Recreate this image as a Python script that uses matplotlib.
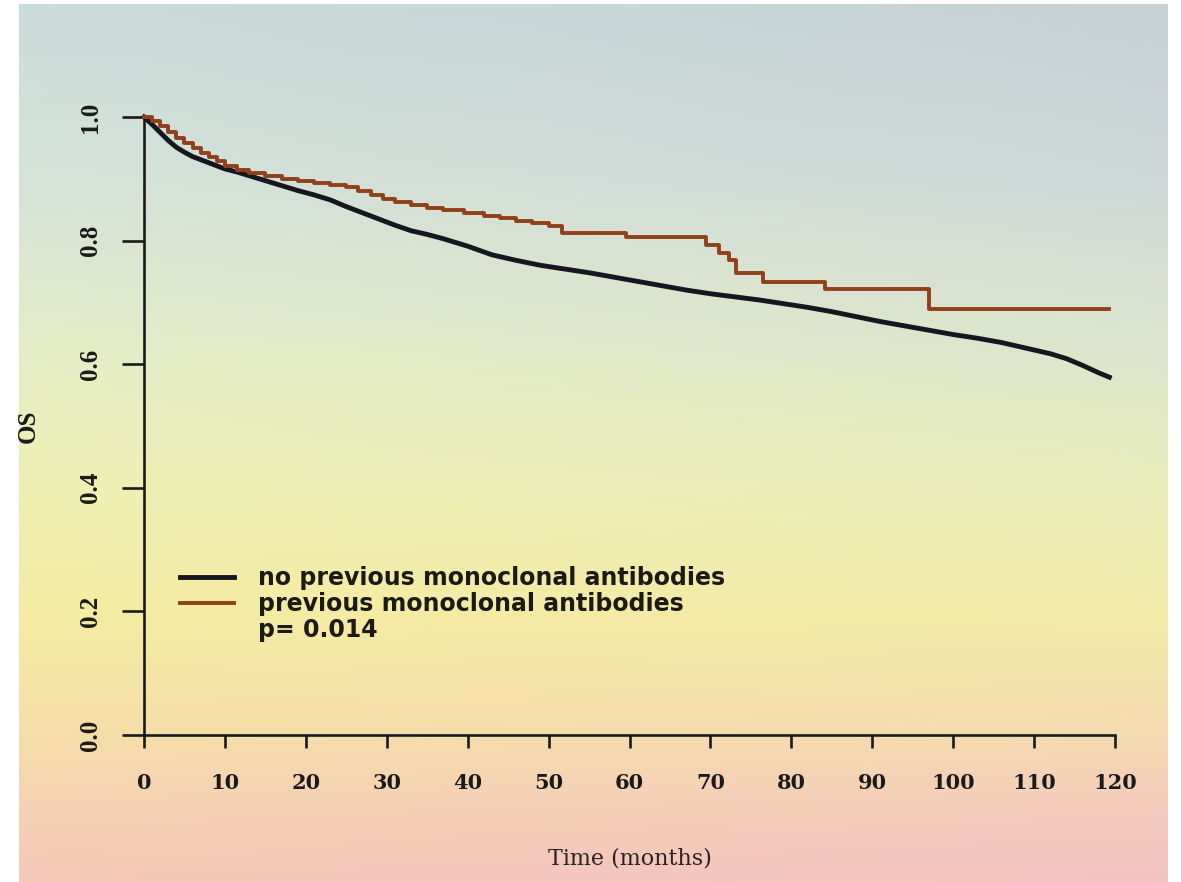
import numpy as np
import matplotlib
matplotlib.use("Agg")
import matplotlib.pyplot as plt
from matplotlib.colors import to_rgb
from matplotlib.lines import Line2D

# Kaplan-Meier overall survival, months
t_no_mab = [0, 1, 2, 3, 4, 5, 6, 7, 8, 9, 10, 11.5, 13, 15, 17, 19, 21, 23, 25, 27,
            29, 31, 33, 35, 37, 40, 43, 46, 49, 52, 55, 58, 61, 64, 67, 70, 73, 76,
            79, 82, 85, 88, 91, 94, 97, 100, 103, 106, 109, 112, 114, 116, 118, 119.3]
os_no_mab = [1.0, 0.988, 0.975, 0.962, 0.951, 0.943, 0.936, 0.931, 0.926, 0.921, 0.916,
             0.911, 0.905, 0.897, 0.889, 0.881, 0.874, 0.866, 0.855, 0.845, 0.835, 0.825,
             0.816, 0.810, 0.803, 0.791, 0.777, 0.768, 0.760, 0.754, 0.748, 0.741, 0.734,
             0.727, 0.720, 0.714, 0.709, 0.704, 0.698, 0.692, 0.685, 0.677, 0.669, 0.662,
             0.655, 0.648, 0.642, 0.635, 0.626, 0.617, 0.609, 0.598, 0.586, 0.579]

t_mab = [0, 1, 2, 3, 4, 5, 6, 7, 8, 9, 10, 11.5, 13, 15, 17, 19, 21, 23, 25, 26.5, 28,
         29.5, 31, 33, 35, 37, 39.5, 42, 44, 46, 48, 50, 51.6, 59.6, 69.5, 71, 72.3,
         73.2, 76.5, 84.2, 97.0, 119.3]
os_mab = [1.0, 0.993, 0.985, 0.975, 0.966, 0.958, 0.950, 0.942, 0.935, 0.928, 0.921,
          0.915, 0.910, 0.905, 0.900, 0.896, 0.893, 0.890, 0.886, 0.880, 0.874, 0.868,
          0.863, 0.858, 0.853, 0.849, 0.845, 0.840, 0.836, 0.832, 0.828, 0.823, 0.812,
          0.806, 0.793, 0.780, 0.769, 0.748, 0.733, 0.722, 0.689, 0.689]

x_ticks = [0, 10, 20, 30, 40, 50, 60, 70, 80, 90, 100, 110, 120]
y_ticks = [0.0, 0.2, 0.4, 0.6, 0.8, 1.0]
y_tick_labels = ["0.0", "0.2", "0.4", "0.6", "0.8", "1.0"]
legend_labels = ["no previous monoclonal antibodies", "previous monoclonal antibodies"]
p_text = "p= 0.014"

W, H = 1181, 882
fig = plt.figure(figsize=(W / 100, H / 100), dpi=100)
fig.patch.set_facecolor("white")

# slide background: soft vertical colour wash, slightly different left/right
stops = [
    (0.00, "#cadcda", "#c6d1d6"),
    (0.20, "#d5e3d8", "#cfd9d9"),
    (0.40, "#e6eec6", "#dde6cc"),
    (0.55, "#eff0b4", "#e9edbc"),
    (0.70, "#f6eba2", "#f3eaa8"),
    (0.82, "#f6e0a8", "#f4dcb0"),
    (0.92, "#f5d2b4", "#f3ccbc"),
    (1.00, "#f4c9b8", "#f2c4c0"),
]
nr, nc = 300, 120
fy = np.linspace(0, 1, nr)
fx = np.linspace(0, 1, nc)
pos = np.array([s[0] for s in stops])
left = np.array([to_rgb(s[1]) for s in stops])
right = np.array([to_rgb(s[2]) for s in stops])
img = np.zeros((nr, nc, 3))
for ch in range(3):
    lcol = np.interp(fy, pos, left[:, ch])
    rcol = np.interp(fy, pos, right[:, ch])
    img[:, :, ch] = lcol[:, None] * (1 - fx[None, :]) + rcol[:, None] * fx[None, :]

bg = fig.add_axes([19 / W, 0, (1168 - 19) / W, (H - 4) / H], zorder=0)
bg.imshow(img, aspect="auto", interpolation="bilinear", extent=[0, 1, 0, 1])
bg.axis("off")

ax = fig.add_axes([144 / W, (H - 735) / H, (1115 - 144) / W, (735 - 117) / H], zorder=1)
ax.patch.set_alpha(0)

ax.plot(t_no_mab, os_no_mab, color="#16161f", lw=3.5, clip_on=False, zorder=3)
ax.plot(t_mab, os_mab, color="#90401a", lw=2.8, drawstyle="steps-post",
        clip_on=False, zorder=4)

ax.set_xlim(0, 120)
ax.set_ylim(0, 1)
for s in ["top", "right"]:
    ax.spines[s].set_visible(False)
for s in ["left", "bottom"]:
    ax.spines[s].set_linewidth(1.9)
    ax.spines[s].set_color("#1a1a1a")

ax.set_xticks(x_ticks)
ax.set_xticklabels([str(v) for v in x_ticks],
                   fontdict=dict(family="DejaVu Serif", weight="bold", size=15))
ax.set_yticks(y_ticks)
ax.set_yticklabels(y_tick_labels, rotation=90, va="center",
                   fontdict=dict(family="Liberation Serif", weight="bold", size=18))
ax.tick_params(axis="x", length=9.5, width=1.9, pad=18, colors="#1a1a1a")
ax.tick_params(axis="y", length=16, width=1.9, pad=14, colors="#1a1a1a")

fig.text(630 / W, 1 - 858 / H, "Time (months)", ha="center", va="center",
         family="DejaVu Serif", size=16, color="#2a2220")
fig.text(28 / W, 1 - 426 / H, "OS", ha="center", va="center", rotation=90,
         family="Liberation Serif", weight="bold", size=18, color="#1a1a1a")

handles = [Line2D([], [], color="#16161f", lw=3.5),
           Line2D([], [], color="#90401a", lw=2.8),
           Line2D([], [], color="none")]
leg = ax.legend(handles, legend_labels + [p_text], loc="upper left",
                bbox_to_anchor=((180 - 144) / 971, (735 - 566) / 618),
                frameon=False, borderpad=0, borderaxespad=0,
                handlelength=2.3, handletextpad=1.0, labelspacing=0.08,
                prop=dict(family="DejaVu Sans", weight="bold", size=17))
for txt in leg.get_texts():
    txt.set_color("#1c1a14")

fig.savefig("out.png", dpi=100)
